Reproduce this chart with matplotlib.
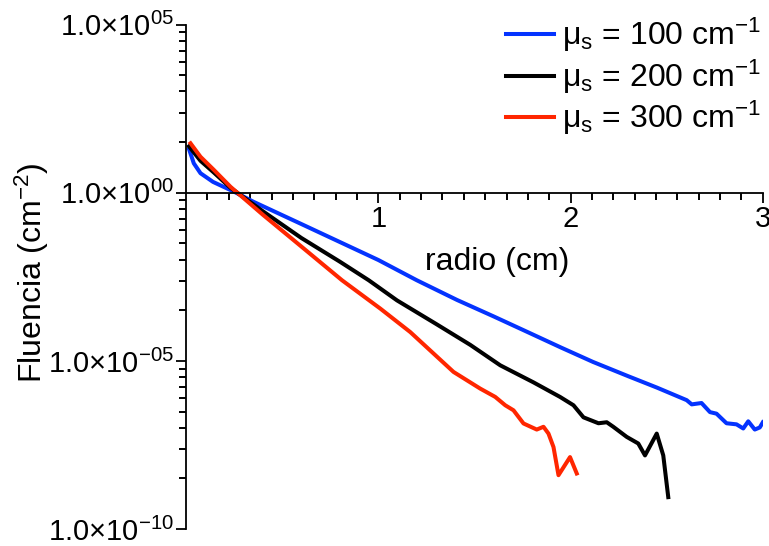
import matplotlib
matplotlib.use('Agg')
import matplotlib.pyplot as plt
import numpy as np
from matplotlib.ticker import FixedLocator, FixedFormatter, NullFormatter

plt.rcParams['font.family'] = ['Liberation Sans', 'DejaVu Sans']
plt.rcParams['mathtext.fontset'] = 'custom'
plt.rcParams['mathtext.rm'] = 'Liberation Sans'
plt.rcParams['mathtext.it'] = 'Liberation Sans:italic'
plt.rcParams['mathtext.default'] = 'regular'

# radio (cm) and fluencia (cm^-2)
r_100 = [0.015, 0.04, 0.075, 0.14, 0.25, 0.35, 0.6, 1.0, 1.2, 1.409, 1.6, 1.753,
         1.95, 2.117, 2.3, 2.45, 2.604, 2.63, 2.681, 2.725, 2.759, 2.811, 2.863,
         2.898, 2.924, 2.958, 2.984, 3.0]
f_100 = [2.0e1, 7.5e0, 3.8e0, 2.1e0, 1.07e0, 5.4e-1, 1.17e-1, 1.0e-2, 2.5e-3,
         6.5e-4, 2.1e-4, 8.3e-5, 2.5e-5, 9.3e-6, 3.5e-6, 1.6e-6, 6.8e-7, 5.1e-7,
         5.6e-7, 3.0e-7, 2.7e-7, 1.4e-7, 1.3e-7, 9.8e-8, 1.6e-7, 9.1e-8, 1.05e-7,
         1.5e-7]

r_200 = [0.015, 0.075, 0.144, 0.231, 0.4, 0.6, 0.8, 0.95, 1.097, 1.3, 1.478,
         1.634, 1.807, 1.945, 2.015, 2.067, 2.145, 2.188, 2.222, 2.292, 2.352,
         2.387, 2.448, 2.482, 2.508]
f_200 = [2.4e1, 8.9e0, 4.0e0, 1.4e0, 2.8e-1, 4.5e-2, 8.9e-3, 2.5e-3, 6.3e-4,
         1.26e-4, 3.0e-5, 7.4e-6, 2.3e-6, 8.5e-7, 4.8e-7, 2.1e-7, 1.4e-7,
         1.5e-7, 1.1e-7, 5.5e-8, 3.5e-8, 1.55e-8, 6.9e-8, 1.55e-8, 8.9e-10]

r_300 = [0.023, 0.075, 0.144, 0.231, 0.4, 0.6, 0.811, 1.01, 1.166, 1.287, 1.391,
         1.53, 1.608, 1.66, 1.703, 1.755, 1.824, 1.859, 1.885, 1.911, 1.937,
         1.997, 2.032]
f_300 = [2.95e1, 1.17e1, 4.8e0, 1.5e0, 2.2e-1, 2.5e-2, 2.5e-3, 3.6e-4, 7.2e-5,
         1.66e-5, 4.7e-6, 1.5e-6, 8.5e-7, 4.8e-7, 3.4e-7, 1.38e-7, 9.1e-8,
         1.1e-7, 6.9e-8, 2.75e-8, 4.0e-9, 1.38e-8, 4.5e-9]

labels = [r'$\mu_s$ = 100 cm$^{-1}$', r'$\mu_s$ = 200 cm$^{-1}$',
          r'$\mu_s$ = 300 cm$^{-1}$']
colors = ['#0433FF', '#000000', '#FF2600']

ytick_vals = [1e-10, 1e-5, 1e0, 1e5]
ytick_labels = ['1.0×10$^{-10}$', '1.0×10$^{-05}$', '1.0×10$^{00}$', '1.0×10$^{05}$']
xtick_vals = [1, 2, 3]

fig = plt.figure(figsize=(7.69, 5.46), dpi=100)
ax = fig.add_axes([0.242, 0.031, 0.750, 0.924])

for r, f, lab, c in zip([r_100, r_200, r_300], [f_100, f_200, f_300], labels, colors):
    ax.plot(r, f, color=c, lw=2.9, label=lab, solid_joinstyle='round')

ax.set_yscale('log')
ax.set_ylim(1e-10, 1e5)
ax.set_xlim(0, 3)

# spines: left full height, bottom crossing at fluence = 1
ax.spines['top'].set_visible(False)
ax.spines['right'].set_visible(False)
ax.spines['bottom'].set_position(('data', 1))
for s in ['left', 'bottom']:
    ax.spines[s].set_linewidth(1.3)

ax.yaxis.set_major_locator(FixedLocator(ytick_vals))
ax.yaxis.set_major_formatter(FixedFormatter(ytick_labels))
# minor ticks: log-spaced inside each 5-decade step
minor_y = []
for e0 in [-10, -5, 0]:
    for k in range(2, 10):
        minor_y.append(10 ** (e0 + 5 * np.log10(k)))
ax.yaxis.set_minor_locator(FixedLocator(minor_y))
ax.yaxis.set_minor_formatter(NullFormatter())

ax.xaxis.set_major_locator(FixedLocator(xtick_vals))
ax.xaxis.set_minor_locator(FixedLocator([i / 9 for i in range(1, 27) if i % 9]))
ax.xaxis.set_minor_formatter(NullFormatter())

ax.tick_params(axis='both', which='major', length=7, width=1.3, labelsize=21, pad=2)
ax.tick_params(axis='both', which='minor', length=5, width=1.4, colors='black',
               bottom=True, left=True, direction='out')

ax.text(0.539, 0.53, 'radio (cm)', transform=ax.transAxes, ha='center',
        va='center', fontsize=23)
fig.text(0.042, 0.50, 'Fluencia (cm$^{-2}$)', rotation=90, ha='center',
         va='center', fontsize=23)

ax.legend(loc='upper right', bbox_to_anchor=(1.046, 1.074), frameon=False,
          fontsize=23, handlelength=1.5, handletextpad=0.25, labelspacing=0.1)

fig.savefig('out.png', dpi=100)
